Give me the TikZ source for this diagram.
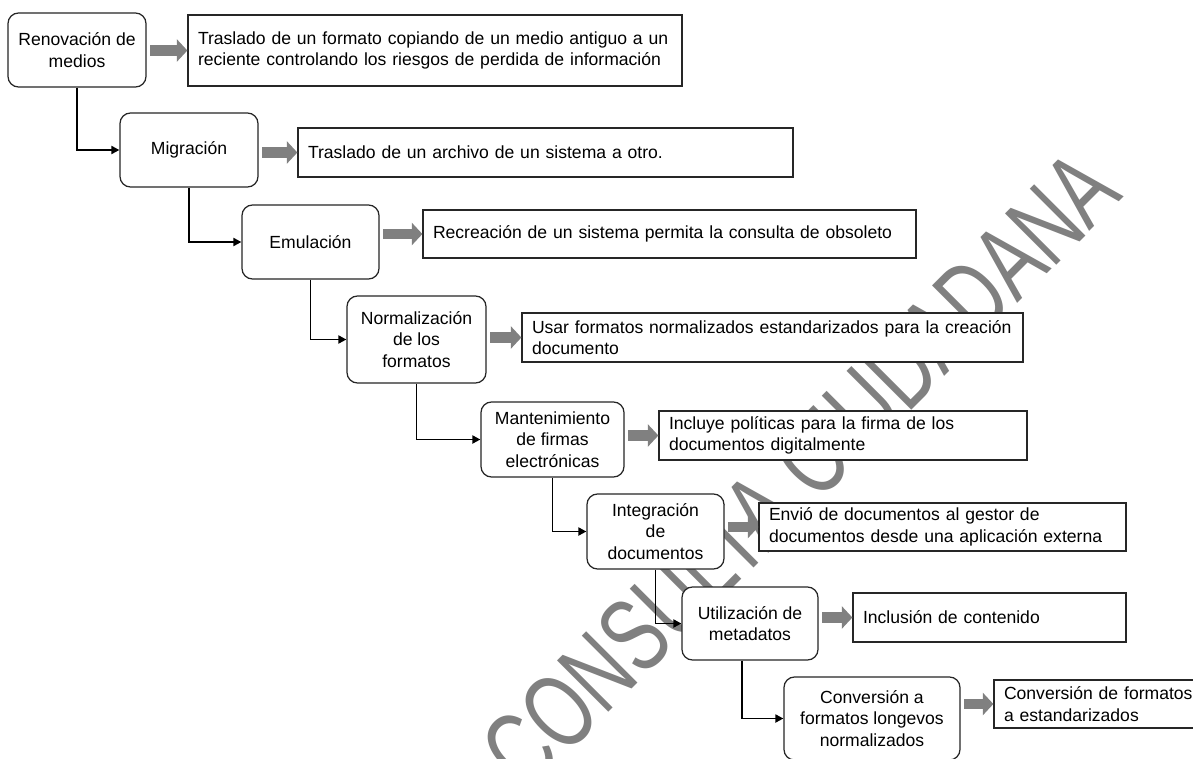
\documentclass[tikz,border=0pt]{standalone}
\usepackage{fontspec}
\setmainfont{Liberation Sans}
\newfontfamily\marcafont[FakeStretch=0.7]{Liberation Sans}
\usetikzlibrary{arrows.meta}
\definecolor{marca}{RGB}{128,128,128}
\definecolor{bloquegris}{RGB}{128,128,128}

\begin{document}
\begin{tikzpicture}[
	font=\fontsize{10}{12.2}\selectfont,
	proceso/.style={draw=black!85, line width=0.7pt, rounded corners=6pt, fill=white, align=center, inner sep=0pt},
	detalle/.style={draw=black!85, line width=0.7pt, fill=white, align=left, inner xsep=0.2cm, inner ysep=0pt},
	conector/.style={line width=1.1pt, -{Triangle[length=4.5pt,width=4.5pt]}},
	bloque/.style={draw=bloquegris, line width=5.8pt, -{Triangle[length=6pt,width=12.5pt]}, shorten <=2pt}
	]
			\useasboundingbox (0,0) rectangle (23.86,-15.18);
			\fill[white] (0,0) rectangle (23.86,-15.18);
			\node[text=marca, font=\marcafont\fontsize{60}{60}\selectfont, rotate=45](marca) at (16.0,-9.4){CONSULTA CIUDADANA};
			\node[proceso, minimum width=2.76cm, minimum height=1.48cm](p1) at (1.54,-1.00){Renovación de\\medios};
			\node[proceso, minimum width=2.76cm, minimum height=1.48cm](p2) at (3.78,-3.00){Migración};
			\node[proceso, minimum width=2.74cm, minimum height=1.48cm](p3) at (6.21,-4.84){Emulación};
			\node[proceso, minimum width=2.78cm, minimum height=1.74cm](p4) at (8.33,-6.79){Normalización\\de los\\formatos};
			\node[proceso, minimum width=2.86cm, minimum height=1.50cm](p5) at (11.05,-8.79){Mantenimiento\\de firmas\\electrónicas};
			\node[proceso, minimum width=2.74cm, minimum height=1.50cm](p6) at (13.11,-10.63){Integración\\de\\documentos};
			\node[proceso, minimum width=2.72cm, minimum height=1.46cm](p7) at (15.00,-12.47){Utilización de\\metadatos};
			\node[proceso, minimum width=3.52cm, minimum height=1.66cm](p8) at (17.44,-14.37){Conversión a\\formatos longevos\\normalizados};
			\node[detalle, text width=9.48cm, minimum height=1.42cm](d1) at (8.70,-1.01){Traslado de un formato copiando de un medio antiguo a un\\reciente controlando los riesgos de perdida de información};
			\node[detalle, text width=9.50cm, minimum height=0.98cm](d2) at (10.91,-3.05){Traslado de un archivo de un sistema a otro.};
			\node[detalle, text width=9.46cm, minimum height=0.96cm](d3) at (13.39,-4.68){Recreación de un sistema permita la consulta de obsoleto};
			\node[detalle, text width=9.62cm, minimum height=0.98cm](d4) at (15.45,-6.75){Usar formatos normalizados estandarizados para la creación\\documento};
			\node[detalle, text width=6.96cm, minimum height=0.98cm](d5) at (16.86,-8.71){Incluye políticas para la firma de los\\documentos digitalmente};
			\node[detalle, text width=6.94cm, minimum height=0.96cm](d6) at (18.85,-10.54){Envió de documentos al gestor de\\documentos desde una aplicación externa};
			\node[detalle, text width=5.06cm, minimum height=0.98cm](d7) at (19.79,-12.35){Inclusión de contenido};
			\node[detalle, text width=3.80cm, minimum height=0.96cm](d8) at (21.98,-14.08){Conversión de formatos\\a estandarizados};
			\draw[conector] (p1.south) |- (p2.west);
			\draw[conector] (p2.south) |- (p3.west);
			\draw[conector] (p3.south) |- (p4.west);
			\draw[conector] (p4.south) |- (p5.west);
			\draw[conector] (p5.south) |- (p6.west);
			\draw[conector] (p6.south) |- (p7.west);
			\draw[conector] ([xshift=-0.16cm]p7.south) |- (p8.west);
			\draw[bloque] (p1.east |- d1.west) -- (d1.west);
			\draw[bloque] (p2.east |- d2.west) -- (d2.west);
			\draw[bloque] (p3.east |- d3.west) -- (d3.west);
			\draw[bloque] (p4.east |- d4.west) -- (d4.west);
			\draw[bloque] (p5.east |- d5.west) -- (d5.west);
			\draw[bloque] (p6.east |- d6.west) -- (d6.west);
			\draw[bloque] (p7.east |- d7.west) -- (d7.west);
			\draw[bloque] (p8.east |- d8.west) -- (d8.west);
\end{tikzpicture}
\end{document}
